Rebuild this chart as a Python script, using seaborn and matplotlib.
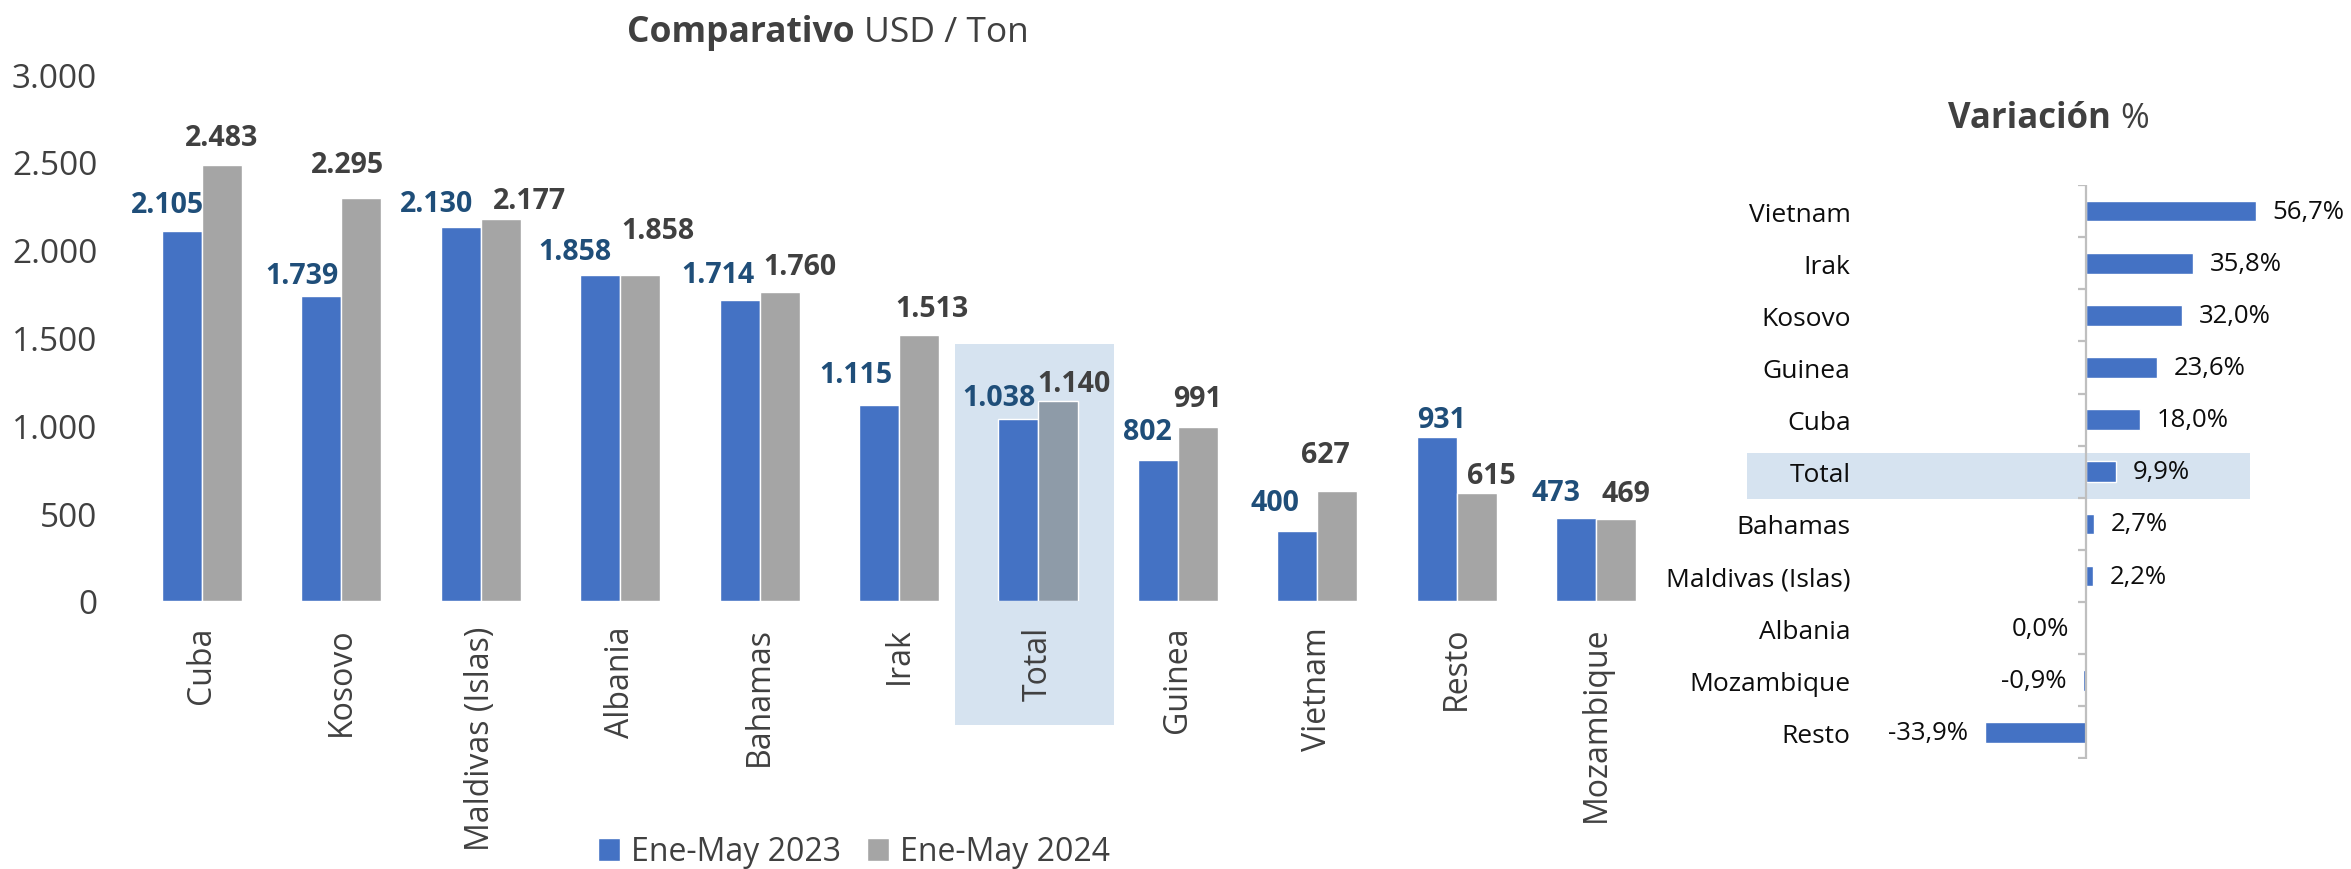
import numpy as np
import pandas as pd
import matplotlib
matplotlib.use("Agg")
import matplotlib.pyplot as plt
import seaborn as sns
from matplotlib.patches import Rectangle
from matplotlib.ticker import FuncFormatter

# ---------------- data ----------------
categories = ["Cuba", "Kosovo", "Maldivas (Islas)", "Albania", "Bahamas", "Irak",
              "Total", "Guinea", "Vietnam", "Resto", "Mozambique"]
usd_2023 = [2105, 1739, 2130, 1858, 1714, 1115, 1038, 802, 400, 931, 473]
usd_2024 = [2483, 2295, 2177, 1858, 1760, 1513, 1140, 991, 627, 615, 469]
series = ["Ene-May 2023", "Ene-May 2024"]
y_ticks = [0, 500, 1000, 1500, 2000, 2500, 3000]

var_categories = ["Vietnam", "Irak", "Kosovo", "Guinea", "Cuba", "Total", "Bahamas",
                  "Maldivas (Islas)", "Albania", "Mozambique", "Resto"]
var_pct = [56.7, 35.8, 32.0, 23.6, 18.0, 9.9, 2.7, 2.2, 0.0, -0.9, -33.9]

# label nudges (pixels: dx, gap above bar) as placed in the original
blue_nudge = [(-14, 19), (-19, 13), (-24, 16), (-25, 16), (-22, 18), (-23, 23),
              (-19, 14), (-11, 21), (-22, 21), (5, 10), (-20, 18)]
gray_nudge = [(0, 20), (-14, 26), (29, 11), (18, 37), (20, 18), (13, 19),
              (16, 10), (0, 21), (-12, 29), (15, 10), (10, 18)]

# ---------------- style ----------------
BLUE = "#4472C4"
GRAY = "#A5A5A5"
GRAY_TOTAL = "#8E9BA8"
HILITE = "#D6E3F0"
LBL_BLUE = "#1F4E79"
DARK = "#404040"
BLACK = "#0D0D0D"

sns.set_theme(style="white")
plt.rcParams["font.family"] = ["Open Sans", "DejaVu Sans"]

W, H = 2351, 870
fig = plt.figure(figsize=(W / 100, H / 100), dpi=100)

fmt_thousands = lambda v: f"{v:,.0f}".replace(",", ".")

# ---------------- left chart ----------------
ax1 = fig.add_axes([132 / W, 1 - 602 / H, (1666 - 132) / W, (602 - 75) / H])
ax1.set_facecolor("none")
df = pd.DataFrame({
    "pais": categories * 2,
    "serie": [series[0]] * len(categories) + [series[1]] * len(categories),
    "usd": usd_2023 + usd_2024,
})
sns.barplot(data=df, x="pais", y="usd", hue="serie", order=categories,
            hue_order=series, palette=[BLUE, GRAY], saturation=1,
            width=0.574, gap=0, ax=ax1, legend=False, zorder=2)

ax1.set_xlim(-0.5, len(categories) - 0.5)
ax1.set_ylim(0, 3000)
ax1.set_yticks(y_ticks)
ax1.yaxis.set_major_formatter(FuncFormatter(lambda v, p: fmt_thousands(v)))
ax1.set_xlabel("")
ax1.set_ylabel("")
sns.despine(ax=ax1, left=True, bottom=True)
ax1.tick_params(axis="y", length=0, pad=25, labelsize=24, labelcolor=DARK)
ax1.tick_params(axis="x", length=0, pad=18, labelsize=23, labelcolor=DARK,
                labelrotation=90)

i_total = categories.index("Total")
ax1.containers[1][i_total].set_facecolor(GRAY_TOTAL)

# highlight behind "Total"
ax1.add_patch(Rectangle((i_total - 0.602, -704), 1.147, 1463 + 704,
                        facecolor=HILITE, edgecolor="none", zorder=0.5,
                        clip_on=False))

for cont, nudges, col in [(ax1.containers[0], blue_nudge, LBL_BLUE),
                          (ax1.containers[1], gray_nudge, DARK)]:
    for p, (dx, gap) in zip(cont, nudges):
        xc = p.get_x() + p.get_width() / 2
        v = p.get_height()
        ax1.annotate(fmt_thousands(v), xy=(xc, v), xytext=(dx, gap),
                     textcoords="offset pixels", ha="center", va="baseline",
                     fontsize=20.5, fontweight="bold", color=col, zorder=5)

fig.legend(handles=[ax1.containers[0][0], ax1.containers[1][0]], labels=series,
           loc="center", bbox_to_anchor=(854 / W, 1 - 853 / H), ncol=2,
           frameon=False, fontsize=23, handlelength=0.7, handleheight=0.7,
           handletextpad=0.35, columnspacing=0.8, labelcolor=DARK)

fig.text(864 / W, 1 - 42 / H, "Comparativo ", ha="right", va="baseline",
         fontsize=25.5, fontweight="bold", color=DARK)
fig.text(864 / W, 1 - 42 / H, "USD / Ton", ha="left", va="baseline",
         fontsize=25.5, color=DARK)

# ---------------- right chart ----------------
ax2 = fig.add_axes([1870 / W, 1 - 759.5 / H, (2340 - 1870) / W, (759.5 - 186) / H])
ax2.set_facecolor("none")
dv = pd.DataFrame({"pais": var_categories, "var": var_pct})
sns.barplot(data=dv, x="var", y="pais", order=var_categories, orient="h",
            color=BLUE, saturation=1, width=0.395, ax=ax2, zorder=2)
ax2.set_xlim(-72.2, 84.9)
ax2.set_ylim(len(var_categories) - 0.5, -0.5)
ax2.set_xlabel("")
ax2.set_ylabel("")
ax2.set_xticks([])
sns.despine(ax=ax2, left=True, bottom=True)
ax2.tick_params(axis="y", length=0, pad=14, labelsize=19, labelcolor=BLACK)

ax2.axvline(0, color="#BFBFBF", lw=1.6, zorder=3)
ax2.hlines(np.arange(-0.5, len(var_categories)), -2.7, 0, color="#BFBFBF",
           lw=1.6, zorder=3)

j_total = var_categories.index("Total")
ax2.add_patch(Rectangle((-113.4, j_total - 0.366), 168.2, 0.892,
                        facecolor=HILITE, edgecolor="none", zorder=0.5,
                        clip_on=False))

for p, v in zip(ax2.patches, var_pct):
    yc = p.get_y() + p.get_height() / 2
    pos = v > 0
    ax2.annotate(f"{v:.1f}%".replace(".", ","), xy=(v, yc),
                 xytext=(17 if pos else -17, 0), textcoords="offset pixels",
                 ha="left" if pos else "right", va="center", fontsize=18.5,
                 color=BLACK, zorder=5)

fig.text(2120 / W, 1 - 128 / H, "Variación ", ha="right", va="baseline",
         fontsize=25, fontweight="bold", color=DARK)
fig.text(2120 / W, 1 - 128 / H, "%", ha="left", va="baseline",
         fontsize=25, color=DARK)

fig.savefig("out.png", dpi=100)
